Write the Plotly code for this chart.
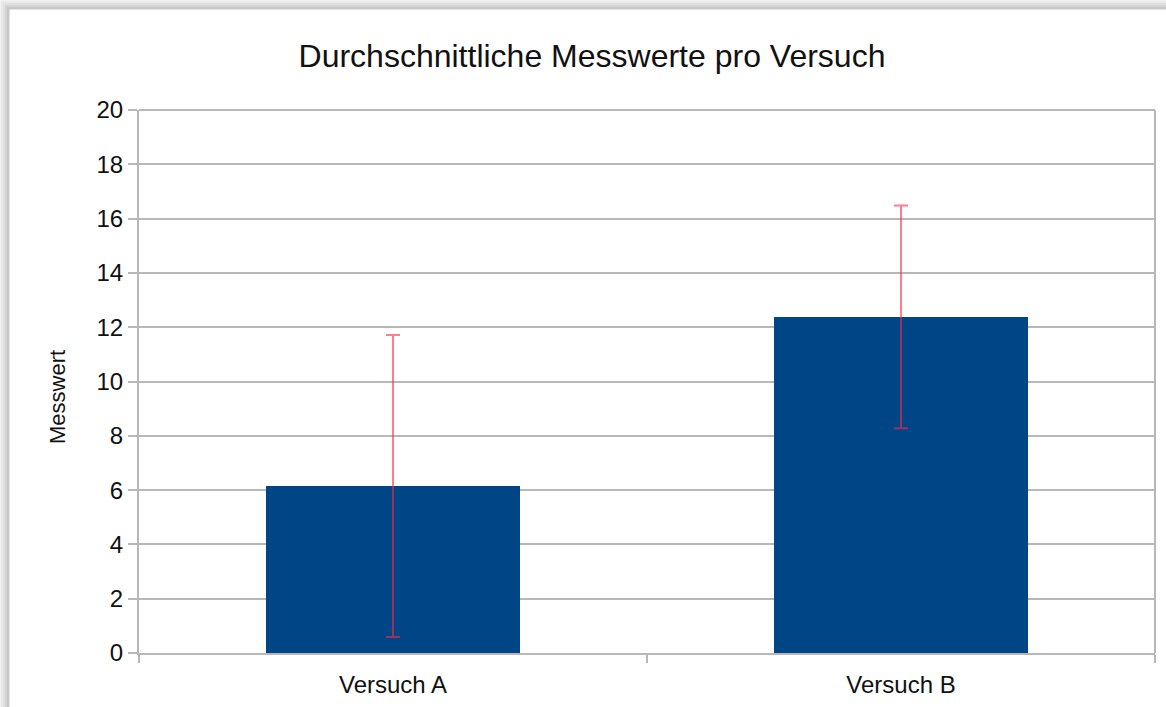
import plotly.graph_objects as go

categories = ["Versuch A", "Versuch B"]
means = [6.15, 12.38]
errors = [5.56, 4.1]
y_ticks = [0, 2, 4, 6, 8, 10, 12, 14, 16, 18, 20]

W, H = 1166, 707
L, R, T, B = 139, 11, 110, 54
pw, ph = W - L - R, H - T - B

def px(x):
    return (x - L) / pw

def py(y):
    return (H - B - y) / ph

fig = go.Figure()
fig.add_trace(go.Bar(
    x=categories, y=means, width=0.5,
    marker=dict(color="#004586", line=dict(width=0)),
    error_y=dict(type="data", array=errors, visible=True,
                 color="rgba(255,40,65,0.6)", thickness=2, width=7),
    showlegend=False,
))

shapes = []
# drop shadow around white frame
for i, a in enumerate([0.03, 0.04, 0.05, 0.06]):
    off = 8 - 2 * i
    shapes.append(dict(type="rect", xref="paper", yref="paper",
                       x0=px(9 - off), x1=px(W + 50), y0=py(H + 50), y1=py(9 - off),
                       fillcolor=f"rgba(0,0,0,{a})", line=dict(width=0), layer="below"))
shapes.append(dict(type="rect", xref="paper", yref="paper",
                   x0=px(9), x1=px(W + 50), y0=py(H + 50), y1=py(9),
                   fillcolor="white", line=dict(color="#c8c8c8", width=1), layer="below"))
# plot area border (top and right)
shapes.append(dict(type="line", xref="paper", yref="paper", x0=0, x1=1, y0=1, y1=1,
                   line=dict(color="#b8b8b8", width=2)))
shapes.append(dict(type="line", xref="paper", yref="paper", x0=1, x1=1, y0=0, y1=1,
                   line=dict(color="#b8b8b8", width=2)))

font_family = "Liberation Sans, Arial, sans-serif"

fig.update_layout(
    width=W, height=H,
    margin=dict(l=L, r=R, t=T, b=B, pad=0, autoexpand=False),
    paper_bgcolor="#f2f2f2",
    plot_bgcolor="white",
    font=dict(family=font_family, color="#111111"),
    title=dict(text="Durchschnittliche Messwerte pro Versuch",
               x=592 / W, xanchor="center", y=1 - 56 / H, yanchor="middle",
               font=dict(size=32, color="#111111")),
    shapes=shapes,
    bargap=0.5,
    annotations=[dict(text="Messwert", textangle=-90, xref="paper", yref="paper",
                      x=px(57), y=py(397), xanchor="center", yanchor="middle",
                      showarrow=False, font=dict(size=22, color="#111111"))],
)
fig.update_xaxes(
    type="category", tickson="boundaries", ticks="outside", ticklen=8,
    tickcolor="#b8b8b8", tickwidth=2,
    showline=True, linecolor="#b8b8b8", linewidth=2,
    showgrid=False, tickfont=dict(size=24, color="#111111"),
    ticklabelstandoff=9, automargin=False,
    range=[-0.5, 1.5],
)
fig.update_yaxes(
    range=[0, 20], tickvals=y_ticks, ticks="outside", ticklen=9,
    tickcolor="#b8b8b8", tickwidth=2,
    showline=True, linecolor="#b8b8b8", linewidth=2,
    showgrid=True, gridcolor="#b8b8b8", gridwidth=2,
    zeroline=False, tickfont=dict(size=24, color="#111111"),
    automargin=False,
)

fig.write_html(
    "out.html",
    config={"displayModeBar": False},
    post_script="document.body.style.margin='0';document.body.style.overflow='hidden';"
                "document.body.style.background='#f2f2f2';",
)
